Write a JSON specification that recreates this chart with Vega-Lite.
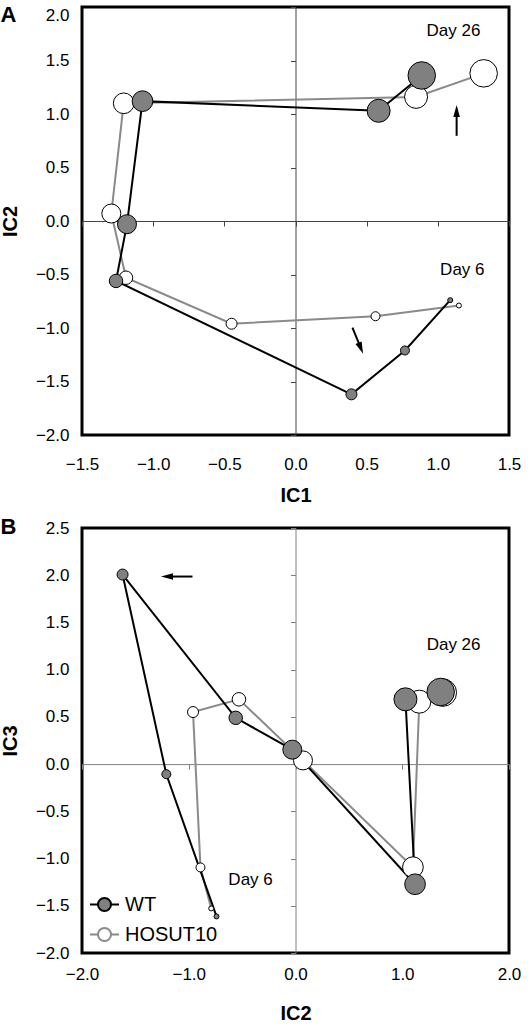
{
  "$schema": "https://vega.github.io/schema/vega-lite/v6.json",
  "padding": {"left": -2, "top": 2, "right": 0, "bottom": 0},
  "spacing": 7,
  "datasets": {
    "pts": [
      {"series": "HOSUT10", "step": 1, "IC1": 1.148, "IC2": -0.79, "IC3": -1.528},
      {"series": "HOSUT10", "step": 2, "IC1": 0.562, "IC2": -0.89, "IC3": -1.094},
      {"series": "HOSUT10", "step": 3, "IC1": -0.449, "IC2": -0.96, "IC3": 0.551},
      {"series": "HOSUT10", "step": 4, "IC1": -1.191, "IC2": -0.53, "IC3": 0.686},
      {"series": "HOSUT10", "step": 5, "IC1": -1.294, "IC2": 0.07, "IC3": 0.039},
      {"series": "HOSUT10", "step": 6, "IC1": -1.207, "IC2": 1.10, "IC3": -1.091},
      {"series": "HOSUT10", "step": 7, "IC1": 0.847, "IC2": 1.16, "IC3": 0.661},
      {"series": "HOSUT10", "step": 8, "IC1": 1.322, "IC2": 1.38, "IC3": 0.757},
      {"series": "WT", "step": 1, "IC1": 1.087, "IC2": -0.74, "IC3": -1.613},
      {"series": "WT", "step": 2, "IC1": 0.769, "IC2": -1.21, "IC3": -0.107},
      {"series": "WT", "step": 3, "IC1": 0.393, "IC2": -1.62, "IC3": 2.007},
      {"series": "WT", "step": 4, "IC1": -1.261, "IC2": -0.56, "IC3": 0.49},
      {"series": "WT", "step": 5, "IC1": -1.184, "IC2": -0.03, "IC3": 0.153},
      {"series": "WT", "step": 6, "IC1": -1.075, "IC2": 1.12, "IC3": -1.272},
      {"series": "WT", "step": 7, "IC1": 0.584, "IC2": 1.03, "IC3": 0.686},
      {"series": "WT", "step": 8, "IC1": 0.887, "IC2": 1.36, "IC3": 0.764}
    ],
    "annA": [
      {"label": "Day 26", "x": 1.11, "y": 1.78},
      {"label": "Day 6", "x": 1.172, "y": -0.456}
    ],
    "annB": [
      {"label": "Day 26", "x": 1.481, "y": 1.265},
      {"label": "Day 6", "x": -0.421, "y": -1.222}
    ],
    "arrA": [
      {"x": 1.132, "y": 0.796, "x2": 1.132, "y2": 1.028, "ang": 0},
      {"x": 0.40, "y": -0.997, "x2": 0.459, "y2": -1.189, "ang": 157.7}
    ],
    "arrB": [
      {"x": -0.965, "y": 1.986, "x2": -1.204, "y2": 1.986, "ang": 270}
    ]
  },
  "vconcat": [
    {
      "width": 427,
      "height": 428,
      "title": {"text": "A", "anchor": "start", "frame": "bounds", "fontSize": 22, "fontWeight": "bold", "font": "Liberation Sans", "color": "black", "baseline": "top", "offset": -21},
      "layer": [
        {
          "data": {"name": "pts"},
          "mark": {"type": "line", "strokeWidth": 2},
          "encoding": {
            "x": {"field": "IC1", "type": "quantitative", "scale": {"domain": [-1.5, 1.5], "nice": false, "zero": false},
              "axis": {"orient": "bottom", "values": [-1.5, -1, -0.5, 0, 0.5, 1, 1.5], "format": ".1f", "labelFontSize": 17, "labelFont": "Liberation Sans", "labelColor": "black", "labelPadding": 21, "ticks": false, "domain": false, "grid": false, "labelOverlap": false, "labelFlush": false, "title": "IC1", "titleFontSize": 20, "titleFont": "Liberation Sans", "titleFontWeight": "bold", "titleColor": "black", "titlePadding": 13}},
            "y": {"field": "IC2", "type": "quantitative", "scale": {"domain": [-2, 2], "nice": false, "zero": false},
              "axis": {"orient": "left", "values": [-2, -1.5, -1, -0.5, 0, 0.5, 1, 1.5, 2], "format": ".1f", "labelFontSize": 17, "labelFont": "Liberation Sans", "labelColor": "black", "labelPadding": 13, "ticks": false, "domain": false, "grid": false, "labelOverlap": false, "labelFlush": false, "labelBaseline": {"expr": "datum.value >= 2 ? 'top' : 'middle'"}, "title": "IC2", "titleFontSize": 20, "titleFont": "Liberation Sans", "titleFontWeight": "bold", "titleColor": "black", "titlePadding": 15}},
            "stroke": {"field": "series", "type": "nominal", "scale": {"domain": ["WT", "HOSUT10"], "range": ["#000000", "#8a8a8a"]}, "legend": null},
            "order": {"field": "step", "type": "quantitative"}
          }
        },
        {
          "data": {"name": "pts"},
          "mark": {"type": "circle", "stroke": "#000000", "strokeWidth": 1, "opacity": 1},
          "encoding": {
            "x": {"field": "IC1", "type": "quantitative", "scale": {"domain": [-1.5, 1.5], "nice": false, "zero": false},
              "axis": {"orient": "bottom", "offset": -214, "values": [-1.5, -1, -0.5, 0, 0.5, 1, 1.5], "labels": false, "ticks": true, "tickSize": 5, "tickColor": "#444444", "tickWidth": 1, "domain": true, "domainColor": "#444444", "domainWidth": 1, "grid": false, "title": null}},
            "y": {"field": "IC2", "type": "quantitative", "scale": {"domain": [-2, 2], "nice": false, "zero": false},
              "axis": {"orient": "left", "offset": -213.5, "values": [-2, -1.5, -1, -0.5, 0, 0.5, 1, 1.5, 2], "labels": false, "ticks": true, "tickSize": 5, "tickColor": "#444444", "tickWidth": 1, "domain": true, "domainColor": "#444444", "domainWidth": 1, "grid": false, "title": null}},
            "fill": {"field": "series", "type": "nominal", "scale": {"domain": ["WT", "HOSUT10"], "range": ["#808080", "#ffffff"]}, "legend": null},
            "size": {"field": "step", "type": "quantitative", "scale": {"domain": [1, 2, 3, 4, 5, 6, 7, 8], "range": [25, 81, 121, 182, 361, 428, 529, 756]}, "legend": null}
          }
        },
        {
          "data": {"name": "annA"},
          "mark": {"type": "text", "fontSize": 17, "font": "Liberation Sans", "color": "black", "align": "center", "baseline": "middle"},
          "encoding": {
            "x": {"field": "x", "type": "quantitative", "scale": {"domain": [-1.5, 1.5], "nice": false, "zero": false}, "axis": null},
            "y": {"field": "y", "type": "quantitative", "scale": {"domain": [-2, 2], "nice": false, "zero": false}, "axis": null},
            "text": {"field": "label"}
          }
        },
        {
          "data": {"name": "arrA"},
          "mark": {"type": "rule", "strokeWidth": 2, "color": "black"},
          "encoding": {
            "x": {"field": "x", "type": "quantitative", "scale": {"domain": [-1.5, 1.5], "nice": false, "zero": false}, "axis": null},
            "y": {"field": "y", "type": "quantitative", "scale": {"domain": [-2, 2], "nice": false, "zero": false}, "axis": null},
            "x2": {"field": "x2"},
            "y2": {"field": "y2"}
          }
        },
        {
          "data": {"name": "arrA"},
          "mark": {"type": "point", "shape": "M0,-1L0.55,1L-0.55,1Z", "filled": true, "color": "black", "opacity": 1, "size": 144},
          "encoding": {
            "x": {"field": "x2", "type": "quantitative", "scale": {"domain": [-1.5, 1.5], "nice": false, "zero": false}, "axis": null},
            "y": {"field": "y2", "type": "quantitative", "scale": {"domain": [-2, 2], "nice": false, "zero": false}, "axis": null},
            "angle": {"field": "ang", "type": "quantitative", "scale": null}
          }
        }
      ],
      "resolve": {"axis": {"x": "independent", "y": "independent"}}
    },
    {
      "width": 427,
      "height": 425,
      "title": {"text": "B", "anchor": "start", "frame": "bounds", "fontSize": 22, "fontWeight": "bold", "font": "Liberation Sans", "color": "black", "baseline": "top", "offset": -20},
      "layer": [
        {
          "data": {"name": "pts"},
          "mark": {"type": "line", "strokeWidth": 2},
          "encoding": {
            "x": {"field": "IC2", "type": "quantitative", "scale": {"domain": [-2, 2], "nice": false, "zero": false},
              "axis": {"orient": "bottom", "values": [-2, -1, 0, 1, 2], "format": ".1f", "labelFontSize": 17, "labelFont": "Liberation Sans", "labelColor": "black", "labelPadding": 13, "ticks": false, "domain": false, "grid": false, "labelOverlap": false, "labelFlush": false, "title": "IC2", "titleFontSize": 20, "titleFont": "Liberation Sans", "titleFontWeight": "bold", "titleColor": "black", "titlePadding": 21}},
            "y": {"field": "IC3", "type": "quantitative", "scale": {"domain": [-2, 2.5], "nice": false, "zero": false},
              "axis": {"orient": "left", "values": [-2, -1.5, -1, -0.5, 0, 0.5, 1, 1.5, 2, 2.5], "format": ".1f", "labelFontSize": 17, "labelFont": "Liberation Sans", "labelColor": "black", "labelPadding": 13, "ticks": false, "domain": false, "grid": false, "labelOverlap": false, "labelFlush": false, "title": "IC3", "titleFontSize": 20, "titleFont": "Liberation Sans", "titleFontWeight": "bold", "titleColor": "black", "titlePadding": 15}},
            "stroke": {"field": "series", "type": "nominal", "scale": {"domain": ["WT", "HOSUT10"], "range": ["#000000", "#8a8a8a"]},
              "legend": {"orient": "bottom-left", "offset": 7, "padding": 0, "title": null, "symbolType": "M-1,0H-0.45M0.45,0H1M0.45,0A0.45,0.45,0,1,1,-0.45,0A0.45,0.45,0,1,1,0.45,0Z", "symbolSize": 841, "symbolStrokeWidth": 2, "labelFontSize": 20, "labelFont": "Liberation Sans", "labelColor": "black", "labelOffset": 5, "rowPadding": 3}},
            "order": {"field": "step", "type": "quantitative"}
          }
        },
        {
          "data": {"name": "pts"},
          "mark": {"type": "circle", "stroke": "#000000", "strokeWidth": 1, "opacity": 1},
          "encoding": {
            "x": {"field": "IC2", "type": "quantitative", "scale": {"domain": [-2, 2], "nice": false, "zero": false},
              "axis": {"orient": "bottom", "offset": -188.9, "values": [-2, -1, 0, 1, 2], "labels": false, "ticks": true, "tickSize": 5, "tickColor": "#808080", "tickWidth": 1, "domain": true, "domainColor": "#808080", "domainWidth": 1, "grid": false, "title": null}},
            "y": {"field": "IC3", "type": "quantitative", "scale": {"domain": [-2, 2.5], "nice": false, "zero": false},
              "axis": {"orient": "left", "offset": -213.5, "values": [-2, -1.5, -1, -0.5, 0, 0.5, 1, 1.5, 2, 2.5], "labels": false, "ticks": true, "tickSize": 5, "tickColor": "#808080", "tickWidth": 1, "domain": true, "domainColor": "#808080", "domainWidth": 1, "grid": false, "title": null}},
            "fill": {"field": "series", "type": "nominal", "scale": {"domain": ["WT", "HOSUT10"], "range": ["#808080", "#ffffff"]},
              "legend": {"orient": "bottom-left", "offset": 7, "padding": 0, "title": null, "symbolType": "M-1,0H-0.45M0.45,0H1M0.45,0A0.45,0.45,0,1,1,-0.45,0A0.45,0.45,0,1,1,0.45,0Z", "symbolSize": 841, "symbolStrokeWidth": 2, "labelFontSize": 20, "labelFont": "Liberation Sans", "labelColor": "black", "labelOffset": 5, "rowPadding": 3}},
            "size": {"field": "step", "type": "quantitative", "scale": {"domain": [1, 2, 3, 4, 5, 6, 7, 8], "range": [25, 81, 121, 182, 361, 428, 529, 756]}, "legend": null}
          }
        },
        {
          "data": {"name": "annB"},
          "mark": {"type": "text", "fontSize": 17, "font": "Liberation Sans", "color": "black", "align": "center", "baseline": "middle"},
          "encoding": {
            "x": {"field": "x", "type": "quantitative", "scale": {"domain": [-2, 2], "nice": false, "zero": false}, "axis": null},
            "y": {"field": "y", "type": "quantitative", "scale": {"domain": [-2, 2.5], "nice": false, "zero": false}, "axis": null},
            "text": {"field": "label"}
          }
        },
        {
          "data": {"name": "arrB"},
          "mark": {"type": "rule", "strokeWidth": 2, "color": "black"},
          "encoding": {
            "x": {"field": "x", "type": "quantitative", "scale": {"domain": [-2, 2], "nice": false, "zero": false}, "axis": null},
            "y": {"field": "y", "type": "quantitative", "scale": {"domain": [-2, 2.5], "nice": false, "zero": false}, "axis": null},
            "x2": {"field": "x2"},
            "y2": {"field": "y2"}
          }
        },
        {
          "data": {"name": "arrB"},
          "mark": {"type": "point", "shape": "M0,-1L0.55,1L-0.55,1Z", "filled": true, "color": "black", "opacity": 1, "size": 144},
          "encoding": {
            "x": {"field": "x2", "type": "quantitative", "scale": {"domain": [-2, 2], "nice": false, "zero": false}, "axis": null},
            "y": {"field": "y2", "type": "quantitative", "scale": {"domain": [-2, 2.5], "nice": false, "zero": false}, "axis": null},
            "angle": {"field": "ang", "type": "quantitative", "scale": null}
          }
        }
      ],
      "resolve": {"axis": {"x": "independent", "y": "independent"}}
    }
  ],
  "resolve": {
    "scale": {"fill": "independent", "stroke": "independent", "size": "independent"},
    "legend": {"fill": "independent", "stroke": "independent", "size": "independent"}
  },
  "config": {
    "view": {"stroke": "black", "strokeWidth": 3},
    "font": "Liberation Sans",
    "axis": {"labelColor": "black", "titleColor": "black"}
  }
}
